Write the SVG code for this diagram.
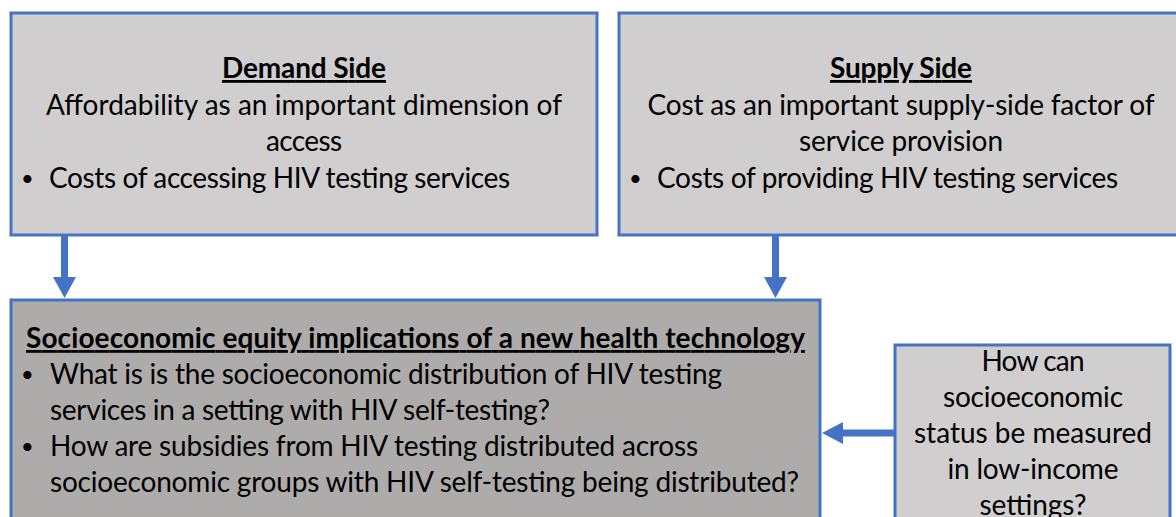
<svg xmlns="http://www.w3.org/2000/svg" width="1176" height="517" viewBox="0 0 1176 517">
  <style>
    .box { stroke: #4472C4; stroke-width: 3; }
    .light { fill: #D0CECE; }
    .dark { fill: #AEABAB; }
    text { font-family: Lato, "Open Sans", "Liberation Sans", sans-serif; font-size: 28px; fill: #000000; }
    .title { font-weight: bold; text-decoration: underline; }
    .mid { text-anchor: middle; }
    .bullet { font-size: 22px; }
    .conn { stroke: #4472C4; stroke-width: 7; fill: none; }
    .head { fill: #4472C4; }
  </style>
  <rect width="1176" height="517" fill="#FFFFFF"/>

  <g id="demand-side">
    <rect class="box light" x="11" y="13" width="586" height="222"/>
    <text class="title mid" x="304" y="78" textLength="164">Demand Side</text>
    <text class="mid" x="304" y="115" textLength="516">Affordability as an important dimension of</text>
    <text class="mid" x="304" y="151" textLength="76">access</text>
    <text class="bullet" x="21" y="186">•</text>
    <text x="49" y="188" textLength="461">Costs of accessing HIV testing services</text>
  </g>

  <g id="supply-side">
    <rect class="box light" x="619" y="13" width="570" height="222"/>
    <text class="title mid" x="901" y="78" textLength="142">Supply Side</text>
    <text class="mid" x="901" y="115" textLength="507">Cost as an important supply-side factor of</text>
    <text class="mid" x="901" y="151" textLength="204">service provision</text>
    <text class="bullet" x="629" y="186">•</text>
    <text x="657" y="188" textLength="461">Costs of providing HIV testing services</text>
  </g>

  <g id="equity-implications">
    <rect class="box dark" x="11" y="300" width="809" height="230"/>
    <text class="title" x="26" y="348" textLength="779">Socioeconomic equity implications of a new health technology</text>
    <text class="bullet" x="21" y="382">•</text>
    <text x="50" y="384" textLength="672">What is is the socioeconomic distribution of HIV testing</text>
    <text x="50" y="420" textLength="500">services in a setting with HIV self-testing?</text>
    <text class="bullet" x="21" y="454">•</text>
    <text x="50" y="456" textLength="648">How are subsidies from HIV testing distributed across</text>
    <text x="50" y="492" textLength="749">socioeconomic groups with HIV self-testing being distributed?</text>
  </g>

  <g id="ses-measurement">
    <rect class="box light" x="895" y="345" width="275" height="190"/>
    <text class="mid" x="1033" y="371" textLength="103">How can</text>
    <text class="mid" x="1033" y="407" textLength="180">socioeconomic</text>
    <text class="mid" x="1033" y="443" textLength="238">status be measured</text>
    <text class="mid" x="1033" y="479" textLength="171">in low-income</text>
    <text class="mid" x="1033" y="515" textLength="107">settings?</text>
  </g>

  <g id="connectors">
    <line class="conn" x1="64.5" y1="236" x2="64.5" y2="279"/>
    <polygon class="head" points="53,277 76,277 64.5,298"/>
    <line class="conn" x1="775.5" y1="236" x2="775.5" y2="279"/>
    <polygon class="head" points="764,277 787,277 775.5,298"/>
    <line class="conn" x1="894" y1="433" x2="841" y2="433"/>
    <polygon class="head" points="843,422 843,444 822,433"/>
  </g>
</svg>
